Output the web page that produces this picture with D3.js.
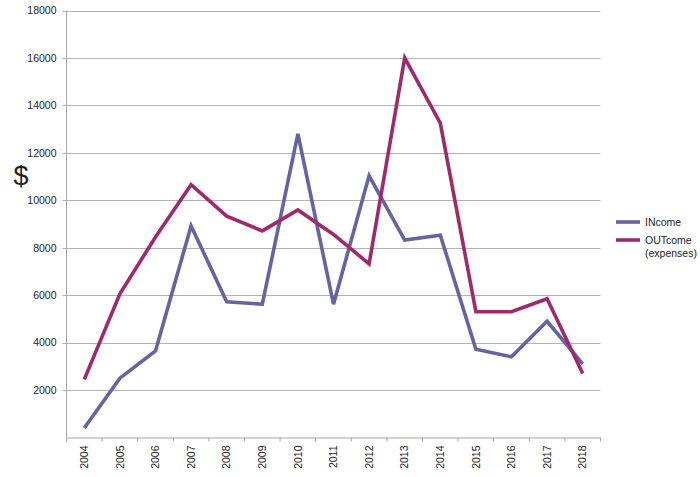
<!DOCTYPE html>
<html><head><meta charset="utf-8">
<script src="https://cdn.jsdelivr.net/npm/d3@7"></script>
<style>body{margin:0;background:#fff;} svg{display:block;font-family:"Liberation Sans",Arial,sans-serif;}</style>
</head><body>
<svg id="c" width="700" height="477"></svg>
<script>
const years = ["2004","2005","2006","2007","2008","2009","2010","2011","2012","2013","2014","2015","2016","2017","2018"];
const income = [400,2500,3650,8920,5720,5620,12800,5620,11030,8320,8530,3720,3400,4900,3100];
const outcome = [2450,6060,8450,10660,9330,8710,9590,8560,7320,16000,13250,5300,5300,5850,2700];
const yTicks = [2000,4000,6000,8000,10000,12000,14000,16000,18000];
const seriesNames = ["INcome","OUTcome"];
const colors = ["#6463a3","#a0296a"];

const svg = d3.select("#c");
const x0 = 66.5, x1 = 600.5, yTop = 10.5, yBot = 437.5;
const x = d3.scaleBand().domain(years).range([x0, x1]);
const y = d3.scaleLinear().domain([0, 18000]).range([yBot, yTop]);

// gridlines
svg.append("g").selectAll("line").data(yTicks).join("line")
  .attr("x1", x0 - 4).attr("x2", x1)
  .attr("y1", d => Math.round(y(d)) + 0.5).attr("y2", d => Math.round(y(d)) + 0.5)
  .attr("stroke", "#b3b3b3").attr("stroke-width", 1);

// y axis
const ya = svg.append("g").attr("transform", `translate(${x0},0)`)
  .call(d3.axisLeft(y).tickValues(yTicks).tickSize(0).tickPadding(10).tickFormat(d3.format("d")));
ya.select(".domain").remove();
ya.selectAll("text").attr("font-size", 10.5).attr("fill", "#222").attr("font-family", "'Liberation Sans',Arial,sans-serif");
svg.append("line").attr("x1", x0).attr("x2", x0).attr("y1", yTop).attr("y2", yBot)
  .attr("stroke", "#a6a6a6");

// x axis
const xa = svg.append("g").attr("transform", `translate(0,${yBot})`)
  .call(d3.axisBottom(x).tickSize(0).tickPadding(0));
xa.select(".domain").attr("stroke", "#a6a6a6");
xa.selectAll("text").attr("font-size", 10.5).attr("fill", "#222")
  .attr("font-family", "'Liberation Sans',Arial,sans-serif")
  .attr("transform", "rotate(-90)").attr("text-anchor", "end")
  .attr("x", -8).attr("y", 0).attr("dy", "0.35em");
// x tick marks at band boundaries
const bounds = years.map(d => x(d)).concat([x1]);
svg.append("g").selectAll("line").data(bounds).join("line")
  .attr("x1", d => d).attr("x2", d => d)
  .attr("y1", yBot).attr("y2", yBot + 4).attr("stroke", "#a6a6a6");

// $ label
svg.append("text").attr("x", 21).attr("y", 178).attr("text-anchor", "middle")
  .attr("dominant-baseline", "middle").attr("font-size", 27).attr("fill", "#222").text("$");

// lines
const line = d3.line().x((d, i) => x(years[i]) + x.bandwidth() / 2).y(d => y(d));
[income, outcome].forEach((s, k) => {
  svg.append("path").datum(s).attr("d", line).attr("fill", "none")
    .attr("stroke", colors[k]).attr("stroke-width", 3.6)
    .attr("stroke-linejoin", "miter");
});

// legend
const lg = svg.append("g");
const ly = [222, 240];
seriesNames.forEach((n, k) => {
  lg.append("line").attr("x1", 616).attr("x2", 640).attr("y1", ly[k]).attr("y2", ly[k])
    .attr("stroke", colors[k]).attr("stroke-width", 3.6);
  lg.append("text").attr("x", 645).attr("y", ly[k]).attr("dy", "0.35em")
    .attr("font-size", 10.5).attr("fill", "#222").text(n);
});
lg.append("text").attr("x", 645).attr("y", 253).attr("dy", "0.35em")
  .attr("font-size", 10.5).attr("fill", "#222").text("(expenses)");
</script>
</body></html>
